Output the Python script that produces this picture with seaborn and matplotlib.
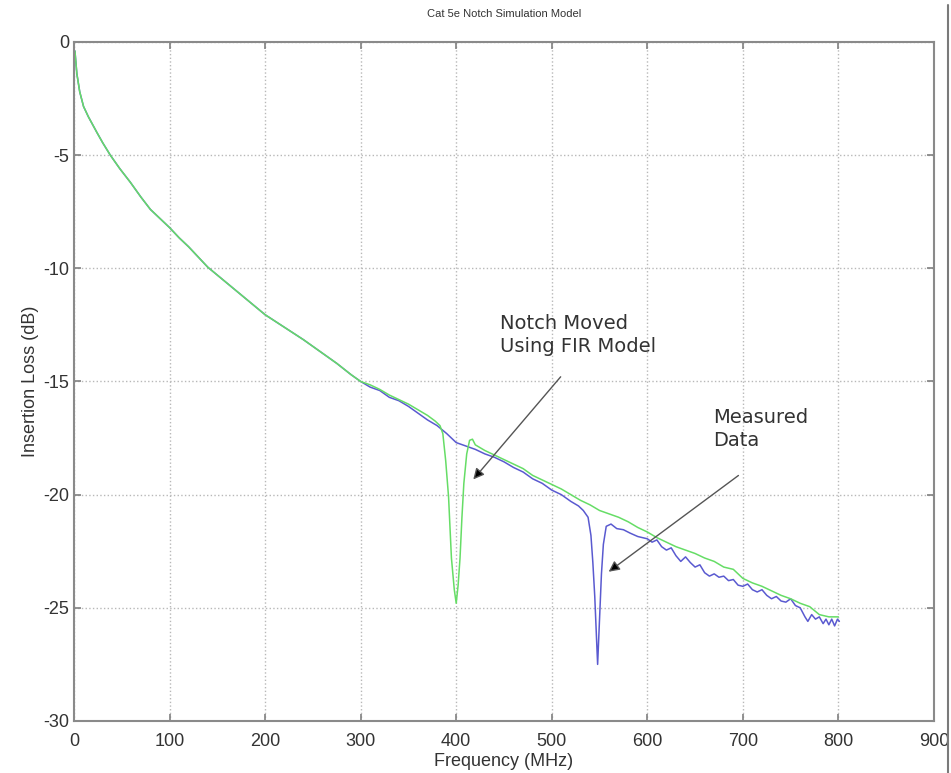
import matplotlib.pyplot as plt
import seaborn as sns
from matplotlib.lines import Line2D

# values (MHz, dB)
freq_low = [1, 3, 6, 10, 15, 24, 30, 38, 48, 59, 70, 80, 90, 100, 110, 120, 130, 140,
            150, 160, 170, 180, 190, 200, 220, 240, 260, 275, 290, 300]
loss_low = [-0.4, -1.4, -2.2, -2.85, -3.3, -4.0, -4.45, -5.0, -5.6, -6.2, -6.85, -7.4,
            -7.8, -8.2, -8.65, -9.05, -9.5, -9.95, -10.3, -10.65, -11.0, -11.35, -11.7,
            -12.05, -12.6, -13.15, -13.75, -14.2, -14.7, -15.0]

freq_meas = [310, 320, 330, 340, 350, 360, 370, 380, 390, 400, 410, 420, 430, 440, 450,
             460, 470, 480, 490, 500, 510, 520, 528, 533, 538, 541, 543, 545, 547, 548,
             549, 550.5, 552, 554, 557, 562, 568, 575, 582, 590, 600, 605, 610, 615, 620,
             625, 630, 635, 640, 645, 650, 655, 660, 665, 670, 675, 680, 685, 690, 695,
             700, 705, 710, 715, 720, 725, 730, 735, 740, 745, 750, 755, 760, 765, 768,
             772, 776, 780, 784, 787, 790, 793, 796, 799, 801]
loss_meas = [-15.25, -15.4, -15.7, -15.85, -16.1, -16.4, -16.7, -16.95, -17.3, -17.7,
             -17.85, -18.0, -18.2, -18.35, -18.55, -18.8, -19.0, -19.3, -19.5, -19.8,
             -20.0, -20.3, -20.5, -20.7, -21.0, -21.8, -23.0, -24.5, -26.5, -27.5,
             -26.5, -25.0, -23.5, -22.2, -21.4, -21.3, -21.5, -21.55, -21.7, -21.85,
             -21.95, -22.1, -22.0, -22.3, -22.45, -22.35, -22.7, -22.95, -22.75, -23.0,
             -23.2, -23.1, -23.45, -23.6, -23.5, -23.65, -23.6, -23.8, -23.75, -24.0,
             -24.05, -23.95, -24.2, -24.3, -24.2, -24.45, -24.6, -24.5, -24.7, -24.75,
             -24.6, -24.9, -25.0, -25.4, -25.6, -25.3, -25.5, -25.4, -25.7, -25.5,
             -25.75, -25.5, -25.8, -25.5, -25.6]

freq_fir = [310, 320, 330, 340, 350, 360, 370, 378, 383, 386, 389, 392, 395, 398, 400,
            402, 404, 406, 408, 411, 414, 417, 420, 430, 440, 450, 460, 470, 480, 490,
            500, 510, 520, 530, 540, 550, 560, 570, 580, 590, 600, 610, 620, 630, 640,
            650, 660, 670, 680, 690, 700, 710, 720, 730, 740, 750, 760, 770, 780, 790, 800]
loss_fir = [-15.15, -15.35, -15.6, -15.8, -16.0, -16.25, -16.5, -16.75, -16.95, -17.3,
            -18.5, -20.1, -22.8, -24.2, -24.8, -24.0, -22.8, -21.0, -19.5, -18.2, -17.6,
            -17.55, -17.8, -18.05, -18.25, -18.45, -18.65, -18.85, -19.15, -19.35, -19.55,
            -19.75, -20.0, -20.25, -20.45, -20.7, -20.85, -21.0, -21.2, -21.45, -21.65,
            -21.9, -22.1, -22.3, -22.45, -22.6, -22.8, -22.95, -23.2, -23.3, -23.7,
            -23.9, -24.05, -24.25, -24.45, -24.6, -24.8, -24.95, -25.3, -25.4, -25.4]

x_ticks = [0, 100, 200, 300, 400, 500, 600, 700, 800, 900]
y_ticks = [-30, -25, -20, -15, -10, -5, 0]

sns.set_style("ticks")
plt.rcParams['font.family'] = ['Liberation Sans', 'DejaVu Sans']
plt.rcParams['axes.unicode_minus'] = False

fig = plt.figure(figsize=(9.51, 7.73), dpi=100)
ax = fig.add_axes([0.0778, 0.0673, 0.9043, 0.8784])

blue = '#5a5ad0'
green = '#66dd66'
sns.lineplot(x=freq_low + freq_meas, y=loss_low + loss_meas, color=blue, lw=1.1, ax=ax)
sns.lineplot(x=freq_low + freq_fir, y=loss_low + loss_fir, color=green, lw=1.1, ax=ax)

ax.set_xlim(0, 900)
ax.set_ylim(-30, 0)
ax.set_xticks(x_ticks)
ax.set_yticks(y_ticks)
ax.grid(True, linestyle=':', color='#b8b8b8', lw=1)
ax.tick_params(direction='in', length=5, width=1.2, colors='#808080', labelcolor='#333333',
               labelsize=13, top=True, right=True)
ax.tick_params(axis='x', pad=9)
for sp in ax.spines.values():
    sp.set_color('#8a8a8a')
    sp.set_linewidth(1.5)

ax.set_title("Cat 5e Notch Simulation Model", fontsize=8, color='#333333', pad=18)
ax.set_xlabel("Frequency (MHz)", fontsize=13, color='#333333', labelpad=2)
ax.set_ylabel("Insertion Loss (dB)", fontsize=13, color='#333333', labelpad=3)

# annotations: labels and arrows placed separately, as in the original
arrow = dict(arrowstyle='-|>', fc='black', ec='#555555', lw=1, mutation_scale=16)
ax.text(445.6, -12.95, "Notch Moved\nUsing FIR Model", fontsize=14, color='#333333',
        family='DejaVu Sans', ha='left', va='center', linespacing=1.3)
ax.annotate("", xy=(416, -19.42), xytext=(511.2, -14.7), arrowprops=arrow)
ax.text(668.4, -17.1, "Measured\nData", fontsize=14, color='#333333',
        family='DejaVu Sans', ha='left', va='center', linespacing=1.3)
ax.annotate("", xy=(557.2, -23.48), xytext=(697.7, -19.08), arrowprops=arrow)

fig.add_artist(Line2D([948 / 951, 948 / 951], [0, 1 - 5 / 773], color='#7a7a7a', lw=1.5))

plt.savefig("out.png", dpi=100)
